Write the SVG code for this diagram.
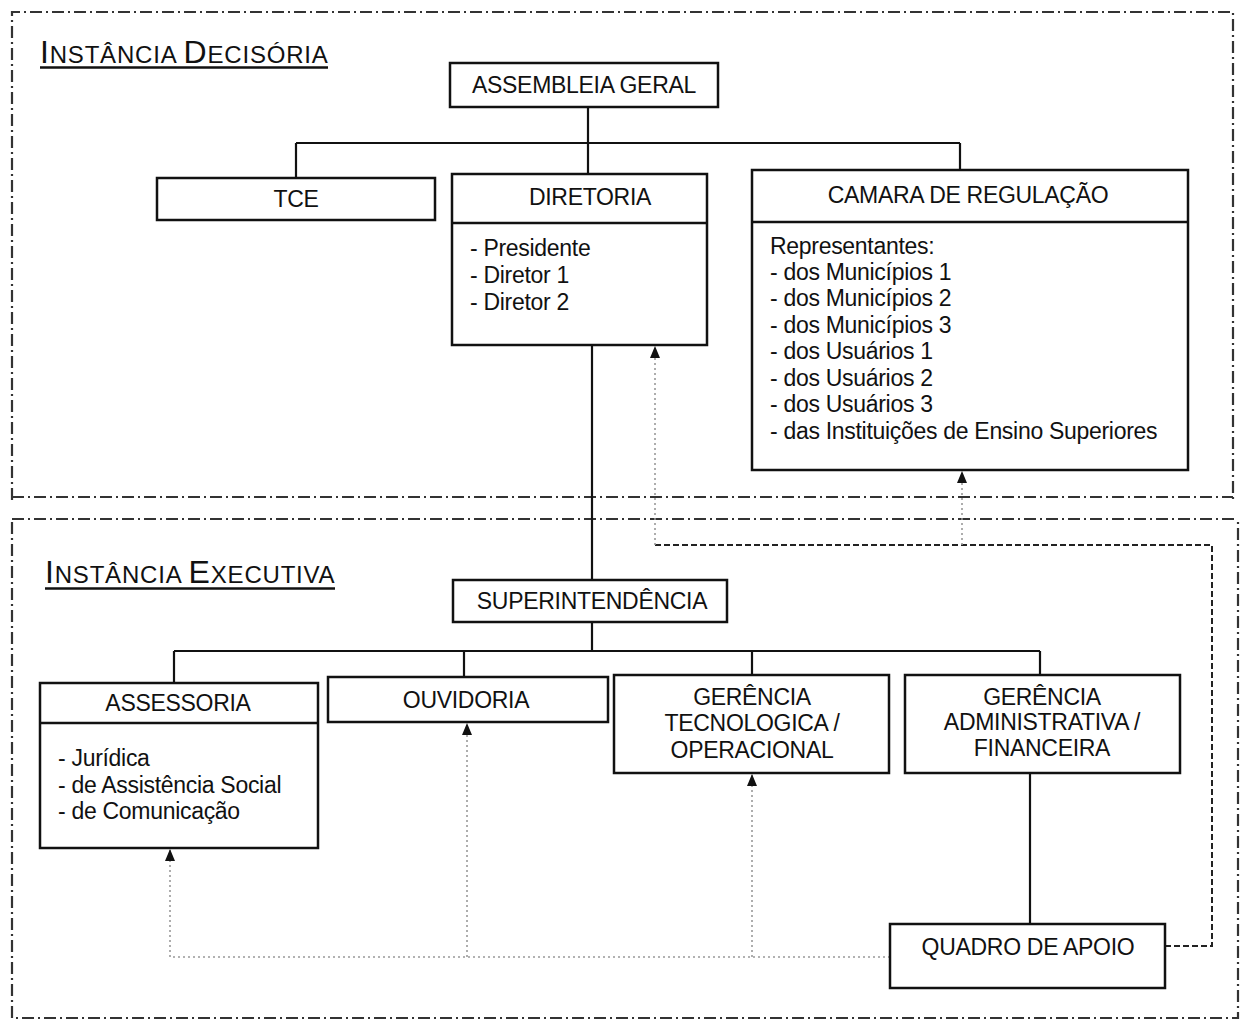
<svg xmlns="http://www.w3.org/2000/svg" width="1241" height="1023" viewBox="0 0 1241 1023">
<defs>
<style>
text{font-family:"Liberation Sans",Arial,sans-serif;fill:#111}
.t{font-size:23px;text-anchor:middle;letter-spacing:-0.3px}
.b{font-size:23px;letter-spacing:-0.3px}
.box{fill:#fff;stroke:#111;stroke-width:2.5}
.div{stroke:#111;stroke-width:2.5}
.ln{fill:none;stroke:#111;stroke-width:2.2}
.frame{fill:none;stroke:#333;stroke-width:2.2;stroke-dasharray:12 4 2 4}
.dash{fill:none;stroke:#222;stroke-width:2;stroke-dasharray:6 3}
.dot{fill:none;stroke:#999;stroke-width:1.6;stroke-dasharray:2 3}
.big{font-size:32px}
.sm{font-size:24px}
</style>
<marker id="ah" markerWidth="12" markerHeight="10" refX="11" refY="5" orient="auto" markerUnits="userSpaceOnUse" viewBox="0 0 12 10">
<path d="M0 0 L12 5 L0 10 Z" fill="#111"/>
</marker>
</defs>

<g id="frames">
<path class="frame" d="M12 500 V12 H1233 V500"/>
<path class="frame" d="M12 497 H1233"/>
<path class="frame" d="M12 519 H1238"/>
<path class="frame" d="M12 522 V1018 H1238 V519"/>
</g>

<g id="titles">
<text x="40" y="63" style="letter-spacing:0.8px"><tspan class="big">I</tspan><tspan class="sm">NSTÂNCIA </tspan><tspan class="big">D</tspan><tspan class="sm">ECISÓRIA</tspan></text>
<line x1="40" y1="67.5" x2="328" y2="67.5" stroke="#111" stroke-width="2.5"/>
<text x="45" y="583" style="letter-spacing:0.8px"><tspan class="big">I</tspan><tspan class="sm">NSTÂNCIA </tspan><tspan class="big">E</tspan><tspan class="sm">XECUTIVA</tspan></text>
<line x1="45" y1="588.5" x2="335" y2="588.5" stroke="#111" stroke-width="2.5"/>
</g>

<g id="connectors">
<path class="ln" d="M588 107 V143 M296 143 H960 M296 143 V178 M588 143 V174 M960 143 V170"/>
<path class="ln" d="M592 345 V580"/>
<path class="ln" d="M592 622 V651 M174 651 H1040 M174 651 V683 M464 651 V677 M752 651 V675 M1040 651 V675"/>
<path class="ln" d="M1030 773 V924"/>
<path class="dash" d="M1165 946 H1212 V545 H655"/>
<path class="dot" d="M655 545 V347" marker-end="url(#ah)"/>
<path class="dot" d="M962 545 V472" marker-end="url(#ah)"/>
<path class="dot" d="M890 957 H170"/>
<path class="dot" d="M170 957 V850" marker-end="url(#ah)"/>
<path class="dot" d="M467 957 V724" marker-end="url(#ah)"/>
<path class="dot" d="M752 957 V775" marker-end="url(#ah)"/>
</g>

<g id="assembleia">
<rect class="box" x="450" y="63" width="268" height="44"/>
<text class="t" x="584" y="93">ASSEMBLEIA GERAL</text>
</g>

<g id="tce">
<rect class="box" x="157" y="178" width="278" height="42"/>
<text class="t" x="296" y="207">TCE</text>
</g>

<g id="diretoria">
<rect class="box" x="452" y="174" width="255" height="171"/>
<line class="div" x1="452" y1="223" x2="707" y2="223"/>
<text class="t" x="590" y="205">DIRETORIA</text>
<text class="b" x="470" y="256">- Presidente</text>
<text class="b" x="470" y="283">- Diretor 1</text>
<text class="b" x="470" y="310">- Diretor 2</text>
</g>

<g id="camara">
<rect class="box" x="752" y="170" width="436" height="300"/>
<line class="div" x1="752" y1="222" x2="1188" y2="222"/>
<text class="t" x="968" y="203">CAMARA DE REGULAÇÃO</text>
<text class="b" x="770" y="254">Representantes:</text>
<text class="b" x="770" y="280">- dos Municípios 1</text>
<text class="b" x="770" y="306">- dos Municípios 2</text>
<text class="b" x="770" y="333">- dos Municípios 3</text>
<text class="b" x="770" y="359">- dos Usuários 1</text>
<text class="b" x="770" y="386">- dos Usuários 2</text>
<text class="b" x="770" y="412">- dos Usuários 3</text>
<text class="b" x="770" y="439">- das Instituições de Ensino Superiores</text>
</g>

<g id="superintendencia">
<rect class="box" x="453" y="580" width="274" height="42"/>
<text class="t" x="592" y="609">SUPERINTENDÊNCIA</text>
</g>

<g id="assessoria">
<rect class="box" x="40" y="683" width="278" height="165"/>
<line class="div" x1="40" y1="723" x2="318" y2="723"/>
<text class="t" x="178" y="711">ASSESSORIA</text>
<text class="b" x="58" y="766">- Jurídica</text>
<text class="b" x="58" y="793">- de Assistência Social</text>
<text class="b" x="58" y="819">- de Comunicação</text>
</g>

<g id="ouvidoria">
<rect class="box" x="328" y="677" width="280" height="45"/>
<text class="t" x="466" y="708">OUVIDORIA</text>
</g>

<g id="gerencia-tec">
<rect class="box" x="614" y="675" width="275" height="98"/>
<text class="t" x="752" y="705">GERÊNCIA</text>
<text class="t" x="752" y="731">TECNOLOGICA /</text>
<text class="t" x="752" y="758">OPERACIONAL</text>
</g>

<g id="gerencia-adm">
<rect class="box" x="905" y="675" width="275" height="98"/>
<text class="t" x="1042" y="705">GERÊNCIA</text>
<text class="t" x="1042" y="730">ADMINISTRATIVA /</text>
<text class="t" x="1042" y="756">FINANCEIRA</text>
</g>

<g id="quadro">
<rect class="box" x="890" y="924" width="275" height="64"/>
<text class="t" x="1028" y="955">QUADRO DE APOIO</text>
</g>
</svg>
